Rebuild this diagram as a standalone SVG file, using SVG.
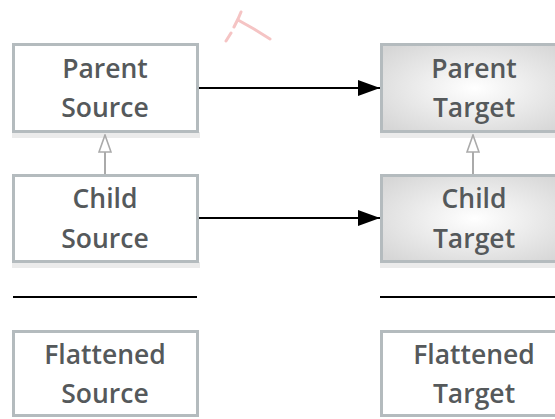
<svg xmlns="http://www.w3.org/2000/svg" width="555" height="419" viewBox="0 0 555 419">
<defs>
<radialGradient id="tg" cx="50%" cy="50%" r="65%">
<stop offset="0" stop-color="#ffffff"/>
<stop offset="1" stop-color="#d6d6d6"/>
</radialGradient>
<marker id="ah" markerWidth="22" markerHeight="16" refX="22" refY="8" orient="auto" markerUnits="userSpaceOnUse">
<path d="M0,0 L22,8 L0,16 Z" fill="#000"/>
</marker>
<marker id="inh" markerWidth="14" markerHeight="20" refX="7" refY="1" orient="0" markerUnits="userSpaceOnUse">
<path d="M7,1 L13,18 L1,18 Z" fill="#fff" stroke="#aaaaaa" stroke-width="1.6"/>
</marker>
</defs>
<style>
.box{stroke:#b4bbbe;stroke-width:3}
.src{fill:#ffffff}
.tgt{fill:url(#tg)}
.shadow{fill:#ebebeb}
.lbl{font-family:"Open Sans","Lato",sans-serif;font-weight:600;font-size:26.5px;fill:#55595b;text-anchor:middle}
.conn{stroke:#000;stroke-width:2;fill:none}
.gen{stroke:#aaaaaa;stroke-width:2;fill:none}
.sep{stroke:#000;stroke-width:2}
</style>
<path d="M226,41 L231,33 M234,27 L238,19 L241,12 M238,20 L254,29 L270,39" stroke="#f5c4c4" stroke-width="3" fill="none" stroke-linecap="round"/>
<g id="parent-source">
<rect class="shadow" x="12" y="132" width="188" height="6"/>
<rect class="box src" x="13.5" y="44.5" width="184" height="87"/>
<text class="lbl" x="105" y="78">Parent</text>
<text class="lbl" x="105" y="117">Source</text>
</g>
<g id="child-source">
<rect class="shadow" x="12" y="262" width="188" height="6"/>
<rect class="box src" x="13.5" y="175.5" width="184" height="86"/>
<text class="lbl" x="105" y="208">Child</text>
<text class="lbl" x="105" y="248">Source</text>
</g>
<g id="flattened-source">
<rect class="box src" x="13.5" y="331.5" width="184" height="84"/>
<text class="lbl" x="105" y="364">Flattened</text>
<text class="lbl" x="105" y="403">Source</text>
</g>
<g id="parent-target">
<rect class="shadow" x="380" y="132" width="190" height="6"/>
<rect class="box tgt" x="381.5" y="44.5" width="186" height="87"/>
<text class="lbl" x="474" y="78">Parent</text>
<text class="lbl" x="474" y="117">Target</text>
</g>
<g id="child-target">
<rect class="shadow" x="380" y="262" width="190" height="6"/>
<rect class="box tgt" x="381.5" y="175.5" width="186" height="86"/>
<text class="lbl" x="474" y="208">Child</text>
<text class="lbl" x="474" y="248">Target</text>
</g>
<g id="flattened-target">
<rect class="box src" x="381.5" y="331.5" width="186" height="84"/>
<text class="lbl" x="474" y="364">Flattened</text>
<text class="lbl" x="474" y="403">Target</text>
</g>
<g id="connectors">
<line class="conn" x1="199" y1="88" x2="380" y2="88" marker-end="url(#ah)"/>
<line class="conn" x1="199" y1="218" x2="380" y2="218" marker-end="url(#ah)"/>
<line class="gen" x1="105" y1="174" x2="105" y2="135" marker-end="url(#inh)"/>
<line class="gen" x1="473" y1="174" x2="473" y2="135" marker-end="url(#inh)"/>
<line class="sep" x1="13" y1="297" x2="197" y2="297"/>
<line class="sep" x1="380" y1="297" x2="555" y2="297"/>
</g>
</svg>
